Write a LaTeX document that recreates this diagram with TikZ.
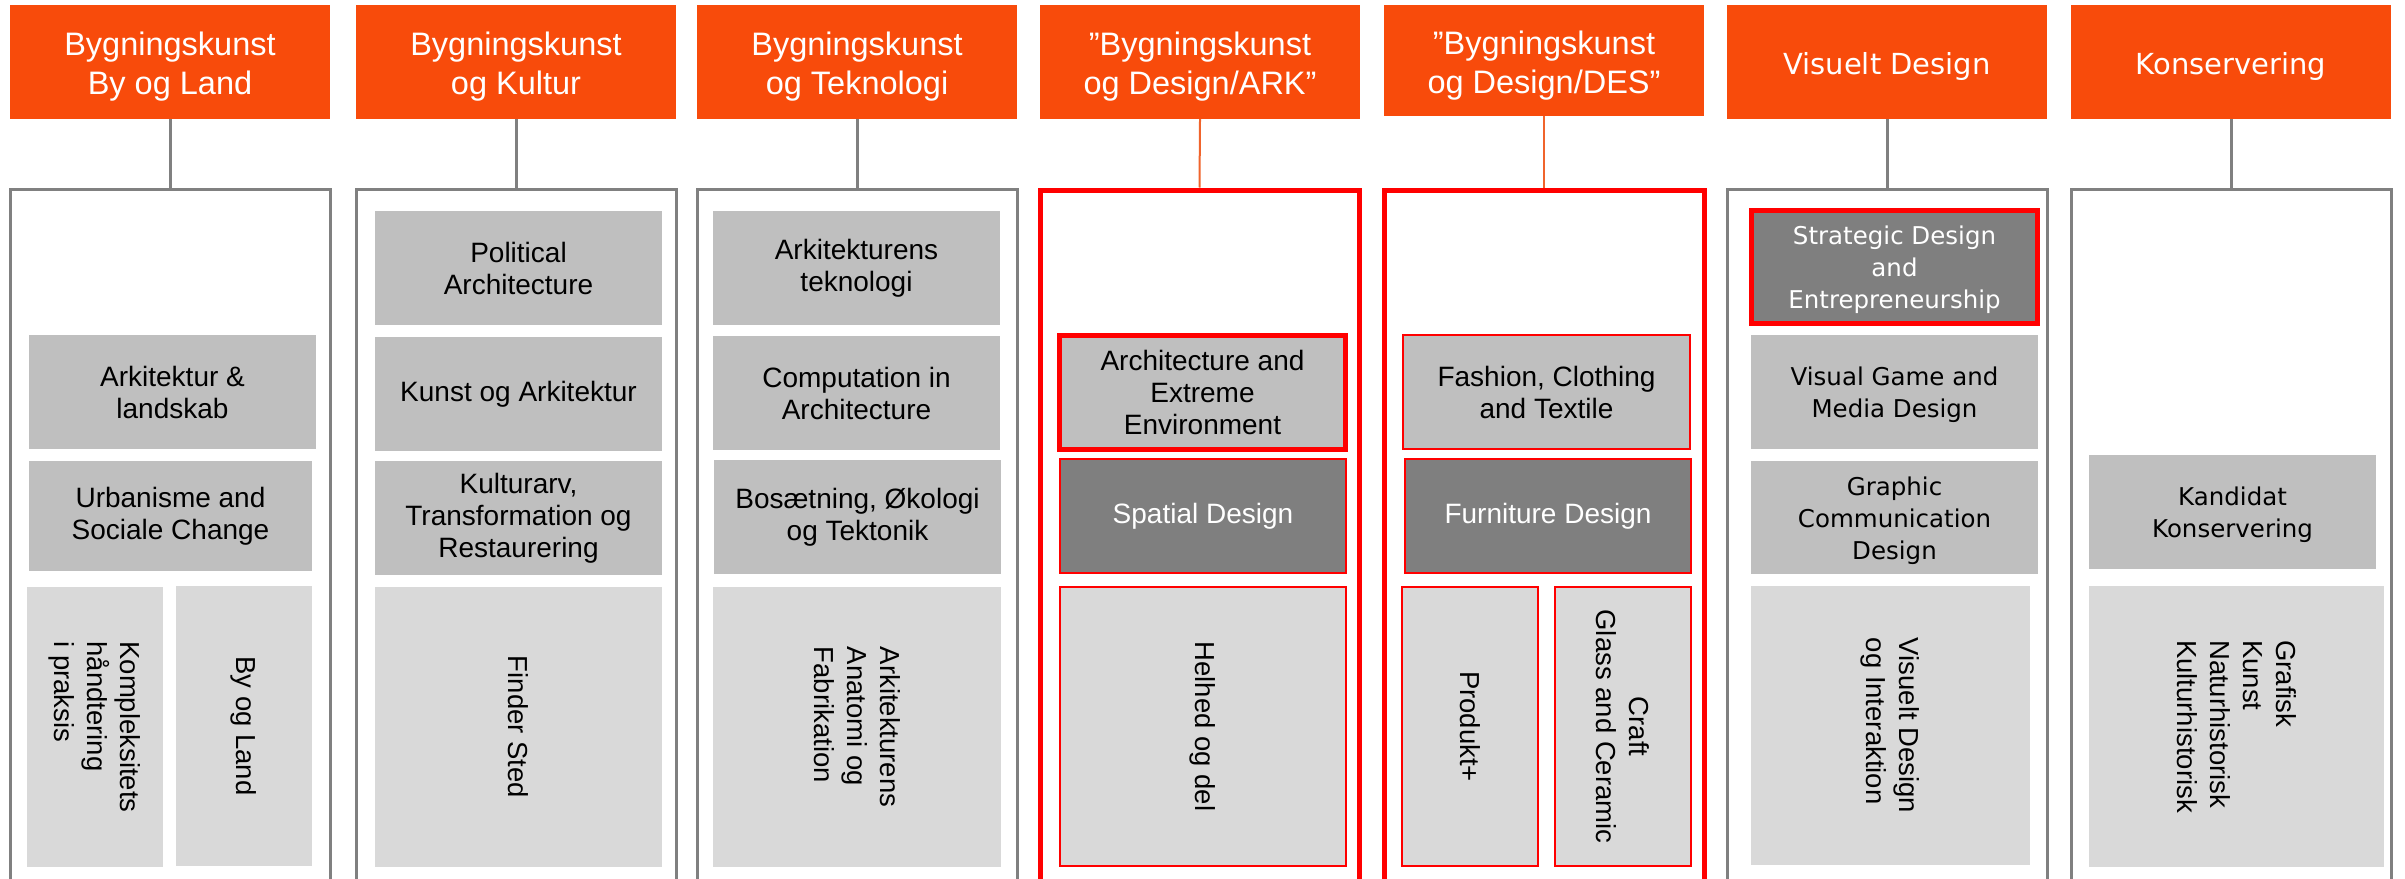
\documentclass[tikz,border=0pt]{standalone}
\usepackage{fontspec}
\setmainfont{Liberation Sans}
\newfontfamily\dvs{DejaVu Sans}
\definecolor{hdr}{HTML}{F84B0B}
\definecolor{lnk}{HTML}{808080}
\definecolor{olnk}{HTML}{F0642C}
\definecolor{gA}{HTML}{BFBFBF}
\definecolor{gB}{HTML}{D9D9D9}
\definecolor{gC}{HTML}{7F7F7F}
\definecolor{rd}{HTML}{FF0000}
\tikzset{
  hdrbox/.style={fill=hdr, text=white, inner sep=0pt, align=center, font=\fontsize{32.5}{39}\selectfont},
  hdrwide/.style={hdrbox, font=\dvs\fontsize{29}{35}\selectfont},
  outg/.style={draw=lnk, line width=3pt, inner sep=0pt},
  outr/.style={draw=rd, line width=5pt, inner sep=0pt},
  lt/.style={fill=gA, inner sep=0pt, align=center, font=\fontsize{28}{32}\selectfont},
  ltw/.style={lt, font=\dvs\fontsize{24.5}{32}\selectfont},
  vt/.style={fill=gB, inner sep=0pt, font=\fontsize{27.5}{33}\selectfont},
  dk/.style={fill=gC, text=white, inner sep=0pt, align=center, font=\fontsize{28}{32}\selectfont},
  rthin/.style={draw=rd, line width=2.5pt},
  rthick/.style={draw=rd, line width=5pt},
  glink/.style={draw=lnk, line width=3pt},
  olink/.style={draw=olnk, line width=2pt}
}
% name, style, x1, y1, x2, y2, text
\newcommand{\bx}[7]{\node[#2, minimum width={#5-#3}, minimum height={#6-#4}] (#1) at ({(#3+#5)/2},{(#4+#6)/2}) {#7};}
\newcommand{\vbx}[7]{\node[#2, rotate=-90, minimum width={#6-#4}, minimum height={#5-#3}] (#1) at ({(#3+#5)/2},{(#4+#6)/2}) {#7};}
\newcommand{\hs}{\rule{0pt}{33pt}}
\newcommand{\ws}{\rule{0pt}{31pt}}
\newcommand{\ls}{\rule{0pt}{24.5pt}}
\begin{document}
\begin{tikzpicture}[x=1pt, y=-1pt]
\path[use as bounding box, fill=white] (0,0) rectangle (2405,878);
\clip (0,0) rectangle (2405,878);
% headers
\bx{h1}{hdrbox}{10}{5}{330}{119}{\hs Bygningskunst\\By og Land}
\bx{h2}{hdrbox}{356}{5}{676}{119}{\hs Bygningskunst\\og Kultur}
\bx{h3}{hdrbox}{697}{5}{1017}{119}{\hs Bygningskunst\\og Teknologi}
\bx{h4}{hdrbox}{1040}{5}{1360}{119}{\hs ”Bygningskunst\\og Design/ARK”}
\bx{h5}{hdrbox}{1384}{5}{1704}{116}{\hs ”Bygningskunst\\og Design/DES”}
\bx{h6}{hdrwide}{1727}{5}{2047}{119}{\ws Visuelt Design}
\bx{h7}{hdrwide}{2071}{5}{2391}{119}{\ws Konservering}
% outer boxes
\bx{o1}{outg}{10}{189}{330}{905}{}
\bx{o2}{outg}{356}{189}{676}{905}{}
\bx{o3}{outg}{697}{189}{1017}{905}{}
\bx{o4}{outr}{1040}{190}{1359}{905}{}
\bx{o5}{outr}{1384}{190}{1704}{905}{}
\bx{o6}{outg}{1727}{189}{2047}{905}{}
\bx{o7}{outg}{2071}{189}{2391}{905}{}
% connectors
\draw[glink] (h1.south) -- (o1.north);
\draw[glink] (h2.south) -- (o2.north);
\draw[glink] (h3.south) -- (o3.north);
\draw[olink] (h4.south) -- (o4.north);
\draw[olink] (h5.south) -- (o5.north);
\draw[glink] (h6.south) -- (o6.north);
\draw[glink] (h7.south) -- (o7.north);
% column 1
\bx{c1a}{lt}{29}{335}{316}{449}{Arkitektur \&\\landskab}
\bx{c1b}{lt}{29}{461}{312}{571}{Urbanisme and\\Sociale Change}
\vbx{c1c}{vt, align=left}{27}{587}{163}{867}{Kompleksitets\\håndtering\\i praksis}
\vbx{c1d}{vt}{176}{586}{312}{866}{By og Land}
% column 2
\bx{c2a}{lt}{375}{211}{662}{325}{Political\\Architecture}
\bx{c2b}{lt}{375}{337}{662}{451}{Kunst og Arkitektur}
\bx{c2c}{lt}{375}{461}{662}{575}{Kulturarv,\\Transformation og\\Restaurering}
\vbx{c2d}{vt}{375}{587}{662}{867}{Finder Sted}
% column 3
\bx{c3a}{lt}{713}{211}{1000}{325}{Arkitekturens\\teknologi}
\bx{c3b}{lt}{713}{336}{1000}{450}{Computation in\\Architecture}
\bx{c3c}{lt}{714}{460}{1001}{574}{Bosætning, Økologi\\og Tektonik}
\vbx{c3d}{vt, align=left}{713}{587}{1001}{867}{Arkitekturens\\Anatomi og\\Fabrikation}
% column 4
\bx{c4a}{lt, rthick}{1059.5}{335.5}{1345.5}{449.5}{Architecture and\\Extreme\\Environment}
\bx{c4b}{dk, rthin}{1060}{459}{1346}{573}{Spatial Design}
\vbx{c4c}{vt, rthin}{1060}{587}{1346}{866}{Helhed og del}
% column 5
\bx{c5a}{lt, rthin}{1403}{335}{1690}{449}{Fashion, Clothing\\and Textile}
\bx{c5b}{dk, rthin}{1405}{459}{1691}{573}{Furniture Design}
\vbx{c5c}{vt, rthin}{1402}{587}{1538}{866}{Produkt+}
\vbx{c5d}{vt, rthin, align=center}{1555}{587}{1691}{866}{Craft\\Glass and Ceramic}
% column 6
\bx{c6a}{dk, rthick, font=\dvs\fontsize{24.5}{32}\selectfont}{1751.5}{210.5}{2037.5}{323.5}{\ls Strategic Design\\and\\Entrepreneurship}
\bx{c6b}{ltw}{1751}{335}{2038}{449}{\ls Visual Game and\\Media Design}
\bx{c6c}{ltw}{1751}{461}{2038}{574}{\ls Graphic\\Communication\\Design}
\vbx{c6d}{vt, align=left}{1751}{586}{2030}{865}{Visuelt Design\\og Interaktion}
% column 7
\bx{c7a}{ltw}{2089}{455}{2376}{569}{\ls Kandidat\\Konservering}
\vbx{c7b}{vt, align=left}{2089}{586}{2384}{867}{Grafisk\\Kunst\\Naturhistorisk\\Kulturhistorisk}
\end{tikzpicture}
\end{document}
